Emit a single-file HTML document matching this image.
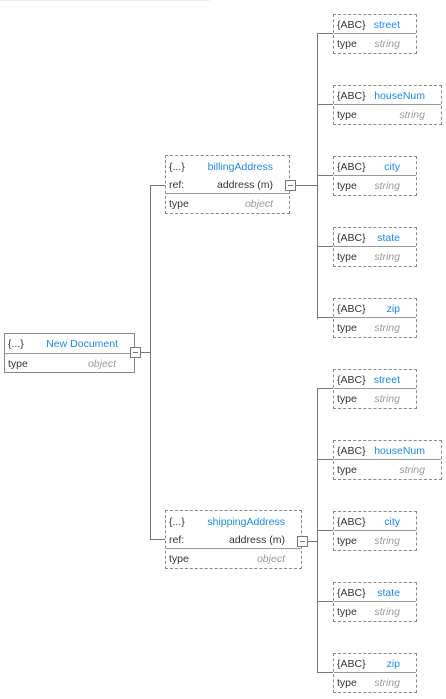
<!DOCTYPE html>
<html><head><style>
body{margin:0;width:446px;height:699px;background:#fff;position:relative;overflow:hidden;font-family:"Liberation Sans",sans-serif;font-size:10.5px;color:#333}
.b{position:absolute;border:1px dashed #888;box-sizing:border-box}
.s{border-style:solid}
.r{position:absolute;left:3px;right:4px;height:18px;line-height:18px}
.r .k{position:absolute;left:0}
.r .v{position:absolute;right:0}
.bl{color:#1e88e5}
.it{color:#999;font-style:italic}
.hl{position:absolute;left:0;right:0;border-top:1px solid #999}
.ln{position:absolute;background:#777}
.btn{position:absolute;width:11px;height:11px;border:1px solid #777;background:#fff;box-sizing:border-box}
.btn:after{content:"";position:absolute;left:2px;right:2px;top:4px;border-top:1px solid #777}
</style></head><body>
<div class="ln" style="left:0;top:0;width:210px;height:1px;background:#eee"></div>

<div class="b s" style="left:4px;top:333px;width:131px;height:40px">
<div class="r" style="top:1px"><span class="k">{...}</span><span class="v bl" style="right:12px">New Document</span></div>
<div class="hl" style="top:19px"></div>
<div class="r" style="top:21px"><span class="k">type</span><span class="v it" style="right:14px">object</span></div>
</div>
<div class="ln" style="left:141px;top:352px;width:9px;height:1px"></div>
<div class="btn" style="left:130px;top:347px"></div>
<div class="ln" style="left:150px;top:185px;width:1px;height:355px"></div>
<div class="ln" style="left:150px;top:185px;width:15px;height:1px"></div>
<div class="ln" style="left:150px;top:539px;width:15px;height:1px"></div>

<div class="b" style="left:165px;top:155px;width:125px;height:59px">
<div class="r" style="top:2px"><span class="k">{...}</span><span class="v bl" style="right:12px">billingAddress</span></div>
<div class="r" style="top:20px"><span class="k">ref:</span><span class="v" style="right:12px">address (m)</span></div>
<div class="hl" style="top:37px"></div>
<div class="r" style="top:39px"><span class="k">type</span><span class="v it" style="right:12px">object</span></div>
</div>
<div class="btn" style="left:285px;top:180px"></div>
<div class="ln" style="left:296px;top:185px;width:21px;height:1px"></div>

<div class="b" style="left:165px;top:510px;width:137px;height:59px">
<div class="r" style="top:2px"><span class="k">{...}</span><span class="v bl" style="right:12px">shippingAddress</span></div>
<div class="r" style="top:20px"><span class="k">ref:</span><span class="v" style="right:12px">address (m)</span></div>
<div class="hl" style="top:37px"></div>
<div class="r" style="top:39px"><span class="k">type</span><span class="v it" style="right:12px">object</span></div>
</div>
<div class="btn" style="left:297px;top:536px"></div>
<div class="ln" style="left:308px;top:541px;width:9px;height:1px"></div>

<div class="ln" style="left:317px;top:33px;width:1px;height:286px"></div>
<div class="ln" style="left:317px;top:388px;width:1px;height:285px"></div>

<div id="kids"></div>
<script>
var tops=[14,85,156,227,298,369,440,511,582,653];
var names=["street","houseNum","city","state","zip"];
var h="";
tops.forEach(function(t,i){
var n=names[i%5];var w=n=="houseNum"?109:84;
h+='<div class="ln" style="left:317px;top:'+(t+19)+'px;width:16px;height:1px"></div>';
h+='<div class="b" style="left:333px;top:'+t+'px;width:'+w+'px;height:40px">'+
'<div class="r" style="top:1px"><span class="k">{ABC}</span><span class="v bl" style="right:12px">'+n+'</span></div>'+
'<div class="hl" style="top:18px"></div>'+
'<div class="r" style="top:20px"><span class="k">type</span><span class="v it" style="right:12px">string</span></div></div>';
});
document.getElementById("kids").innerHTML=h;
</script>
</body></html>
